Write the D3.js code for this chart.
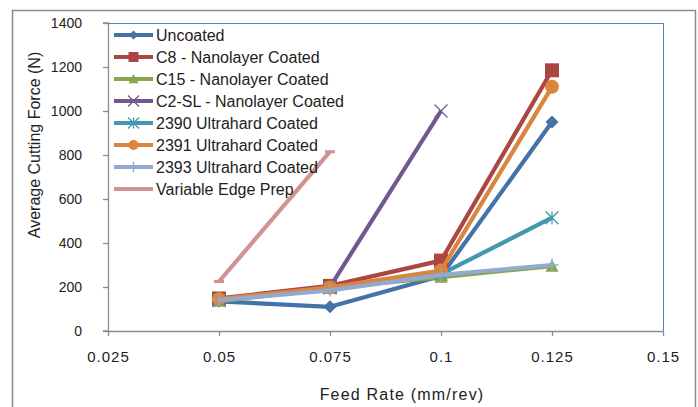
<!DOCTYPE html>
<html>
<head>
<meta charset="utf-8">
<script src="https://cdn.jsdelivr.net/npm/d3@7"></script>
<style>
  html, body { margin: 0; padding: 0; background: #fff; }
  svg { display: block; }
  text { font-family: "Liberation Sans", Arial, sans-serif; fill: #222; }
</style>
</head>
<body>
<svg id="chart" width="698" height="407"></svg>
<script>
// ---- data ----
const feedRates = [0.05, 0.075, 0.1, 0.125];
const seriesNames = [
  "Uncoated",
  "C8 - Nanolayer Coated",
  "C15 - Nanolayer Coated",
  "C2-SL - Nanolayer Coated",
  "2390 Ultrahard Coated",
  "2391 Ultrahard Coated",
  "2393 Ultrahard Coated",
  "Variable Edge Prep"
];
const uncoated = [135, 110, 250, 950];
const c8 = [148, 205, 320, 1185];
const c15 = [135, 195, 245, 295];
const c2sl = [140, 200, 1000, null];
const u2390 = [140, 195, 258, 515];
const u2391 = [145, 198, 275, 1110];
const u2393 = [140, 185, 255, 300];
const variableEdge = [225, 815, null, null];
const xTicks = [0.025, 0.05, 0.075, 0.1, 0.125, 0.15];
const xTickLabels = ["0.025", "0.05", "0.075", "0.1", "0.125", "0.15"];
const yTicks = [0, 200, 400, 600, 800, 1000, 1200, 1400];

const seriesValues = [uncoated, c8, c15, c2sl, u2390, u2391, u2393, variableEdge];
const colors = ["#4572A7", "#AA4643", "#89A54E", "#71588F", "#4198AF", "#DB843D", "#93A9CF", "#D19392"];
const markers = ["diamond", "square", "triangle", "x", "star", "circle", "plus", "dash"];

// ---- layout ----
const svg = d3.select("#chart");
const L = 108, R = 663, T = 23, B = 331;
const x = d3.scaleLinear().domain([0.025, 0.15]).range([L, R]);
const y = d3.scaleLinear().domain([0, 1400]).range([B, T]);

// outer chart border
svg.append("rect").attr("x", 12.5).attr("y", 10.5).attr("width", 683).attr("height", 420)
  .attr("fill", "#fff").attr("stroke", "#8c8c8c").attr("stroke-width", 1.5);

// plot area border (top/right blue thin)
svg.append("line").attr("x1", L).attr("x2", R).attr("y1", T + 0.5).attr("y2", T + 0.5)
  .attr("stroke", "#4f81bd").attr("stroke-width", 1);
svg.append("line").attr("x1", R + 0.5).attr("x2", R + 0.5).attr("y1", T).attr("y2", B)
  .attr("stroke", "#4f81bd").attr("stroke-width", 1);

// axes
const yAxis = d3.axisLeft(y).tickValues(yTicks).tickSize(5).tickPadding(21).tickFormat(d3.format("d"));
const gy = svg.append("g").attr("transform", `translate(${L},0)`).call(yAxis);
const xAxis = d3.axisBottom(x).tickValues(xTicks).tickSize(5).tickPadding(15)
  .tickFormat((d, i) => xTickLabels[i]);
const gx = svg.append("g").attr("transform", `translate(0,${B})`).call(xAxis);
[gx, gy].forEach(g => {
  g.selectAll("path.domain").attr("stroke", "#8c8c8c").attr("stroke-width", 1.3);
  g.selectAll(".tick line").attr("stroke", "#8c8c8c").attr("stroke-width", 1.3);
  g.selectAll(".tick text").attr("font-family", "Liberation Sans, Arial, sans-serif")
    .attr("font-size", 14).attr("fill", "#222");
});
gx.selectAll(".tick text").attr("font-size", 15).attr("letter-spacing", "1px");
gy.select("path.domain").attr("d", `M-5,${B}H0.5V${T}H-5`);
gx.select("path.domain").attr("d", `M${L},${0.5}H${R}`);

// axis titles
svg.append("text").attr("transform", "translate(40,145) rotate(-90)")
  .attr("text-anchor", "middle").attr("font-size", 16).text("Average Cutting Force (N)");
svg.append("text").attr("x", 402).attr("y", 400)
  .attr("text-anchor", "middle").attr("font-size", 16).attr("letter-spacing", "1.2px").text("Feed Rate (mm/rev)");

// marker drawing
function drawMarker(g, type, cx, cy, color, s) {
  const h = s / 2;
  switch (type) {
    case "diamond":
      g.append("path").attr("d", `M${cx},${cy - h}L${cx + h},${cy}L${cx},${cy + h}L${cx - h},${cy}Z`).attr("fill", color);
      break;
    case "square":
      g.append("rect").attr("x", cx - h).attr("y", cy - h).attr("width", s).attr("height", s).attr("fill", color);
      break;
    case "triangle":
      g.append("path").attr("d", `M${cx},${cy - h}L${cx + h},${cy + h * 0.85}L${cx - h},${cy + h * 0.85}Z`).attr("fill", color);
      break;
    case "circle":
      g.append("circle").attr("cx", cx).attr("cy", cy).attr("r", h).attr("fill", color);
      break;
    case "x":
      g.append("path").attr("d", `M${cx - h},${cy - h}L${cx + h},${cy + h}M${cx - h},${cy + h}L${cx + h},${cy - h}`)
        .attr("stroke", color).attr("stroke-width", 1.3);
      break;
    case "star":
      g.append("path").attr("d", `M${cx - h},${cy - h}L${cx + h},${cy + h}M${cx - h},${cy + h}L${cx + h},${cy - h}M${cx},${cy - h}L${cx},${cy + h}`)
        .attr("stroke", color).attr("stroke-width", 1.3);
      break;
    case "plus":
      g.append("path").attr("d", `M${cx - h},${cy}L${cx + h},${cy}M${cx},${cy - h}L${cx},${cy + h}`)
        .attr("stroke", color).attr("stroke-width", 1.3);
      break;
    case "dash":
      g.append("path").attr("d", `M${cx - h},${cy}L${cx + h},${cy}`)
        .attr("stroke", color).attr("stroke-width", 3);
      break;
  }
}
const markerSize = { diamond: 13, square: 14, triangle: 13, circle: 14, x: 13, star: 13, plus: 13, dash: 10 };

// series
const line = d3.line().defined(d => d.v != null).x(d => x(d.x)).y(d => y(d.v));
seriesValues.forEach((vals, i) => {
  const pts = feedRates.map((fx, j) => ({ x: fx, v: vals[j] }));
  const g = svg.append("g");
  g.append("path").datum(pts).attr("d", line).attr("fill", "none")
    .attr("stroke", colors[i]).attr("stroke-width", 4.2).attr("stroke-linejoin", "round");
  pts.filter(d => d.v != null).forEach(d => drawMarker(g, markers[i], x(d.x), y(d.v), colors[i], markerSize[markers[i]]));
});

// legend
const legendSize = { diamond: 9, square: 10, triangle: 10, circle: 10, x: 11, star: 11, plus: 11, dash: 8 };
seriesNames.forEach((name, i) => {
  const cy = 35 + i * 22;
  const g = svg.append("g");
  g.append("line").attr("x1", 114).attr("x2", 153).attr("y1", cy).attr("y2", cy)
    .attr("stroke", colors[i]).attr("stroke-width", 4);
  drawMarker(g, markers[i], 133.5, cy, colors[i], legendSize[markers[i]]);
  g.append("text").attr("x", 156).attr("y", cy + 6).attr("font-size", 16).text(name);
});
</script>
</body>
</html>
